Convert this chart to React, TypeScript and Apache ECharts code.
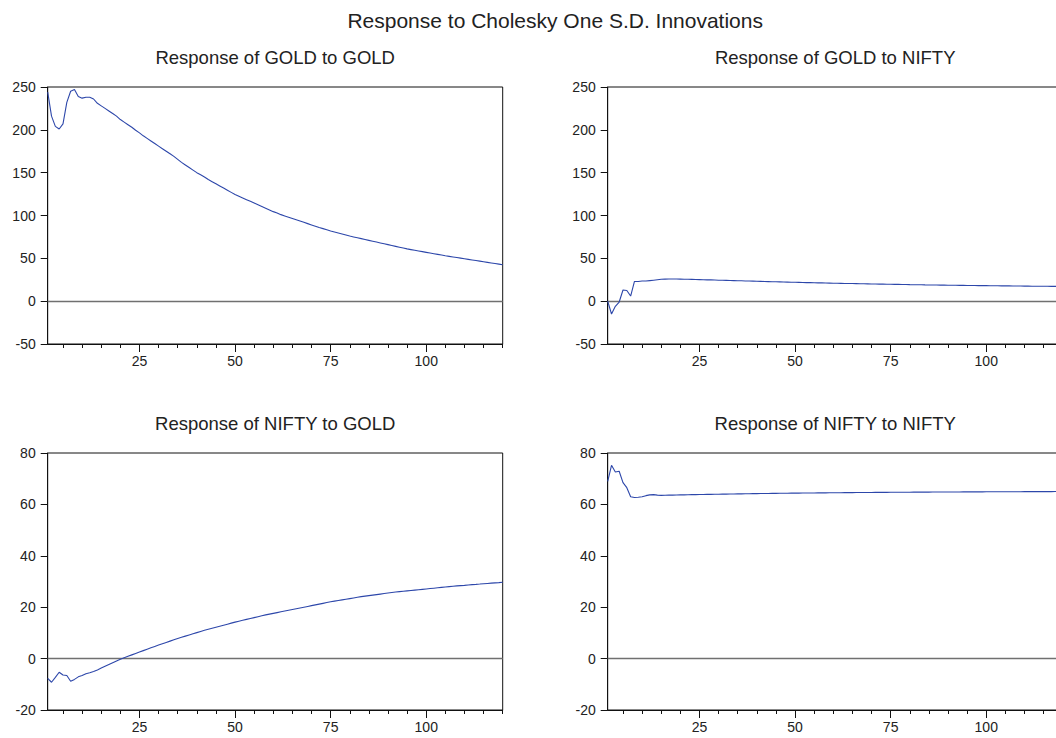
import React, { useEffect, useRef } from "react";
import * as echarts from "echarts";

const mainTitle = "Response to Cholesky One S.D. Innovations";
const panelTitles = [
  "Response of GOLD to GOLD",
  "Response of GOLD to NIFTY",
  "Response of NIFTY to GOLD",
  "Response of NIFTY to NIFTY",
];
const periods = Array.from({ length: 120 }, (_, i) => i + 1);
const majorXTicks = [25, 50, 75, 100];
const minorXTicks = [5, 10, 15, 20, 25, 30, 35, 40, 45, 50, 55, 60, 65, 70, 75, 80, 85, 90, 95, 100, 105, 110, 115, 120];

const goldToGold = [
  244, 216, 204, 201, 207, 232, 245, 247, 239, 237,
  238, 238, 236, 231, 228, 225, 222, 219, 216, 212,
  209, 206, 203, 199.5, 196.5, 193, 190, 187, 184, 181,
  178, 175, 172, 169, 165.5, 162, 159, 156, 153, 150,
  147.5, 145, 142, 139.5, 137, 134.5, 132, 129.5, 127, 124.5,
  122.5, 120.5, 118.5, 116.5, 114.5, 112.5, 110.5, 108.5, 106.5, 104.5,
  103, 101, 99.5, 98, 96.5, 95, 93.5, 92, 90.5, 89,
  87.5, 86, 84.7, 83.4, 82, 80.8, 79.6, 78.4, 77.2, 76,
  75, 74, 73, 72, 71, 70, 69, 68, 67, 66,
  65, 64, 63, 62, 61, 60.2, 59.4, 58.6, 57.8, 57,
  56.2, 55.4, 54.6, 53.8, 53, 52.3, 51.6, 50.9, 50.2, 49.5,
  48.8, 48.1, 47.4, 46.7, 46, 45.3, 44.6, 43.9, 43.2, 42.5,
];

const goldToNifty = [
  0, -15, -6, -1, 13, 12.5, 6, 23, 23, 23.5,
  23.5, 24, 24.5, 25, 25.5, 25.7, 25.8, 25.8, 25.8, 25.7,
  25.6, 25.5, 25.4, 25.3, 25.2, 25.05, 24.9, 24.8, 24.65, 24.5,
  24.4, 24.25, 24.1, 24.0, 23.85, 23.75, 23.6, 23.5, 23.35, 23.2,
  23.1, 22.95, 22.85, 22.7, 22.6, 22.5, 22.35, 22.25, 22.1, 22.0,
  21.9, 21.8, 21.7, 21.6, 21.5, 21.4, 21.3, 21.2, 21.1, 21.0,
  20.9, 20.8, 20.7, 20.6, 20.55, 20.45, 20.35, 20.25, 20.2, 20.1,
  20.0, 19.9, 19.85, 19.75, 19.7, 19.6, 19.55, 19.45, 19.4, 19.3,
  19.25, 19.15, 19.1, 19.0, 18.95, 18.9, 18.8, 18.75, 18.7, 18.6,
  18.55, 18.5, 18.45, 18.4, 18.35, 18.3, 18.25, 18.2, 18.15, 18.1,
  18.05, 18.0, 17.95, 17.9, 17.85, 17.8, 17.75, 17.7, 17.65, 17.6,
  17.55, 17.5, 17.5, 17.45, 17.4, 17.35, 17.3, 17.3, 17.25, 17.2,
];

const niftyToGold = [
  -7.7, -9.2, -7.3, -5.3, -6.4, -6.6, -8.8, -8.1, -7.1, -6.6,
  -5.9, -5.5, -5.0, -4.4, -3.7, -3.0, -2.3, -1.6, -0.9, -0.25,
  0.35, 0.9, 1.45, 2.0, 2.55, 3.1, 3.65, 4.2, 4.75, 5.3,
  5.8, 6.3, 6.8, 7.3, 7.8, 8.3, 8.75, 9.2, 9.65, 10.1,
  10.55, 11.0, 11.4, 11.8, 12.2, 12.6, 13.0, 13.4, 13.8, 14.2,
  14.55, 14.9, 15.25, 15.6, 15.95, 16.3, 16.65, 17.0, 17.3, 17.6,
  17.9, 18.2, 18.5, 18.8, 19.1, 19.4, 19.7, 20.0, 20.3, 20.6,
  20.9, 21.2, 21.5, 21.8, 22.1, 22.35, 22.6, 22.85, 23.1, 23.35,
  23.6, 23.85, 24.1, 24.3, 24.5, 24.7, 24.9, 25.1, 25.3, 25.5,
  25.7, 25.9, 26.05, 26.2, 26.35, 26.5, 26.65, 26.8, 26.95, 27.1,
  27.25, 27.4, 27.55, 27.7, 27.85, 28.0, 28.15, 28.3, 28.4, 28.5,
  28.65, 28.8, 28.9, 29.0, 29.15, 29.25, 29.35, 29.45, 29.55, 29.7,
];

const niftyToNifty = [
  69, 75.2, 72.6, 72.9, 68.5, 66.5, 63.0, 62.7, 62.8, 63.0,
  63.4, 63.7, 63.8, 63.6, 63.5, 63.55, 63.6, 63.6, 63.65, 63.7,
  63.7, 63.75, 63.8, 63.8, 63.85, 63.85, 63.9, 63.9, 63.95, 63.95,
  64.0, 64.0, 64.05, 64.05, 64.1, 64.1, 64.15, 64.15, 64.2, 64.2,
  64.22, 64.24, 64.26, 64.28, 64.3, 64.32, 64.34, 64.35, 64.37, 64.38,
  64.4, 64.42, 64.43, 64.45, 64.46, 64.48, 64.49, 64.5, 64.52, 64.53,
  64.54, 64.56, 64.57, 64.58, 64.6, 64.61, 64.62, 64.63, 64.64, 64.65,
  64.66, 64.67, 64.68, 64.69, 64.7, 64.71, 64.72, 64.73, 64.74, 64.75,
  64.76, 64.77, 64.78, 64.78, 64.79, 64.8, 64.81, 64.82, 64.82, 64.83,
  64.84, 64.85, 64.85, 64.86, 64.87, 64.87, 64.88, 64.89, 64.89, 64.9,
  64.91, 64.91, 64.92, 64.92, 64.93, 64.94, 64.94, 64.95, 64.95, 64.96,
  64.96, 64.97, 64.97, 64.98, 64.98, 64.99, 64.99, 65.0, 65.0, 65.0,
];

const panelSeries = [goldToGold, goldToNifty, niftyToGold, niftyToNifty];
const topRange = { min: -50, max: 250, interval: 50 };
const bottomRange = { min: -20, max: 80, interval: 20 };

const FONT = '"Liberation Sans", Arial, sans-serif';
const TEXT_COLOR = "#222";
const LINE_COLOR = "#2d47aa";
const PLOT_W = 455;
const PLOT_H = 257;
const LEFTS = [47.7, 607.7];
const TOPS = [87, 453];

export default function App() {
  const ref = useRef<HTMLDivElement>(null);

  useEffect(() => {
    if (!ref.current) return;
    const chart = echarts.init(ref.current, null, { renderer: "svg" });

    const grids: any[] = [];
    const xAxes: any[] = [];
    const yAxes: any[] = [];
    const series: any[] = [];
    const graphics: any[] = [];

    graphics.push({
      type: "text",
      x: (LEFTS[0] + LEFTS[1] + PLOT_W) / 2,
      y: 20,
      style: {
        text: mainTitle,
        fontSize: 21,
        fontFamily: FONT,
        fill: TEXT_COLOR,
        textAlign: "center",
        textVerticalAlign: "middle",
      },
    });

    for (let i = 0; i < 4; i++) {
      const col = i % 2;
      const row = Math.floor(i / 2);
      const left = LEFTS[col];
      const top = TOPS[row];
      const range = row === 0 ? topRange : bottomRange;

      grids.push({
        left,
        top,
        width: PLOT_W,
        height: PLOT_H,
        show: true,
        borderColor: "#111",
        borderWidth: 1,
        backgroundColor: "transparent",
        containLabel: false,
        outerBoundsMode: "none",
      });

      xAxes.push({
        type: "value",
        gridIndex: i,
        min: 1,
        max: 120,
        position: "bottom",
        axisLine: { show: true, onZero: false, lineStyle: { color: "#111", width: 1 } },
        axisTick: { show: true, customValues: majorXTicks, length: 8, inside: false, lineStyle: { color: "#111" } },
        axisLabel: { show: true, customValues: majorXTicks, margin: 10, fontSize: 14, fontFamily: FONT, color: TEXT_COLOR },
        splitLine: { show: false },
      });
      xAxes.push({
        type: "value",
        gridIndex: i,
        min: 1,
        max: 120,
        position: "bottom",
        axisLine: { show: false, onZero: false },
        axisTick: { show: true, customValues: minorXTicks, length: 4, inside: false, lineStyle: { color: "#111" } },
        axisLabel: { show: false },
        splitLine: { show: false },
      });

      yAxes.push({
        type: "value",
        gridIndex: i,
        min: range.min,
        max: range.max,
        interval: range.interval,
        position: "left",
        axisLine: { show: true, onZero: false, lineStyle: { color: "#111", width: 1 } },
        axisTick: { show: true, length: 7, inside: false, lineStyle: { color: "#111" } },
        axisLabel: { show: true, margin: 12, fontSize: 14, fontFamily: FONT, color: TEXT_COLOR },
        splitLine: { show: false },
      });

      series.push({
        type: "line",
        xAxisIndex: i * 2,
        yAxisIndex: i,
        data: panelSeries[i].map((v, k) => [periods[k], v]),
        showSymbol: false,
        symbol: "none",
        lineStyle: { color: LINE_COLOR, width: 1.1 },
        itemStyle: { color: LINE_COLOR },
        silent: true,
        z: 3,
        markLine: {
          silent: true,
          symbol: "none",
          label: { show: false },
          lineStyle: { color: "#707070", width: 1.3, type: "solid" },
          data: [{ yAxis: 0 }],
          z: 2,
        },
      });

      graphics.push({
        type: "text",
        x: left + PLOT_W / 2,
        y: top - 30,
        style: {
          text: panelTitles[i],
          fontSize: 18.5,
          fontFamily: FONT,
          fill: TEXT_COLOR,
          textAlign: "center",
          textVerticalAlign: "middle",
        },
      });
    }

    chart.setOption({
      animation: false,
      backgroundColor: "#ffffff",
      grid: grids,
      xAxis: xAxes,
      yAxis: yAxes,
      series,
      graphic: graphics,
    });

    return () => {
      chart.dispose();
    };
  }, []);

  return (
    <div
      ref={ref}
      style={{ position: "fixed", left: 0, top: 0, width: 1056, height: 738, background: "#fff" }}
    />
  );
}
